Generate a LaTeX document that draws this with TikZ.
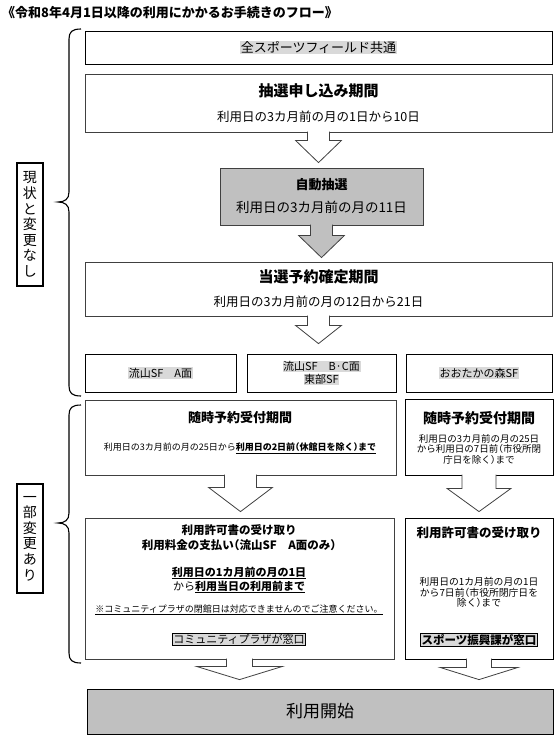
\documentclass[tikz,border=0pt]{standalone}
\usepackage{fontspec}
\setmainfont{Noto Sans CJK JP}
\usetikzlibrary{calc}
\definecolor{boxgray}{HTML}{C0C0C0}
\definecolor{hlgray}{HTML}{D9D9D9}
\definecolor{edge}{HTML}{404040}
\newcommand\hl[1]{{\setlength{\fboxsep}{0.6pt}\colorbox{hlgray}{#1}}}
\newcommand\fsize[2]{\fontsize{#1}{#2}\selectfont}
\newcommand\tight{\addfontfeatures{RawFeature=+halt}}
% block arrow: [style]{from}{to}{shaft half}{head half}{shaft length}{gap}
\newcommand\blockarrow[7][hollowarrow]{%
  \draw[#1] let \p1=(#2.south), \p2=([yshift=#7]#3.north) in
    (\x1-#4,\y1+0.8pt) -- (\x1-#4,\y1-#6) -- (\x1-#5,\y1-#6) -- (\x1,\y2)
    -- (\x1+#5,\y1-#6) -- (\x1+#4,\y1-#6) -- (\x1+#4,\y1+0.8pt);}
% curly bracket: {top}{tip}{bottom}
\newcommand\curly[3]{%
  \draw[bracket] (81,#1) .. controls (72,#1) and (69,#1+3) .. (69,#1+10)
    -- (69,#2-10) .. controls (69,#2-3) and (65,#2) .. (58,#2)
    .. controls (65,#2) and (69,#2+3) .. (69,#2+10)
    -- (69,#3-10) .. controls (69,#3-3) and (72,#3) .. (81,#3);}
\tikzset{
  box/.style={draw=edge, line width=0.8pt, fill=white, inner sep=0pt, align=center},
  graybox/.style={box, fill=boxgray},
  tag/.style={draw, line width=1.6pt, inner sep=0pt, minimum width=26pt, align=center, font=\fsize{14}{15.6}},
  txt/.style={inner sep=0pt, align=center},
  window/.style={draw, line width=0.8pt, fill=hlgray, inner sep=1pt},
  hollowarrow/.style={draw=edge, line width=0.8pt, fill=white},
  grayarrow/.style={hollowarrow, fill=boxgray},
  bracket/.style={line width=1.1pt},
}
\begin{document}
\begin{tikzpicture}[x=1pt, y=-1pt]
  \useasboundingbox (0,0) rectangle (557,739);
  \node[txt, anchor=west, font=\bfseries\fsize{13}{15}] (title) at (2,13) {《令和8年4月1日以降の利用にかかるお手続きのフロー》};

  % unchanged part
  \node[box, draw=black, line width=1pt, minimum width=467pt, minimum height=33pt, font=\fsize{13}{15}] (common) at (318.5,47.5) {\hl{全スポーツフィールド共通}};
  \node[box, minimum width=467pt, minimum height=58pt, font=\fsize{12.5}{25}] (apply) at (318.5,103)
    {{\bfseries\fsize{15}{18}抽選申し込み期間}\\利用日の3カ月前の月の1日から10日};
  \node[graybox, minimum width=203pt, minimum height=57pt, font=\fsize{13.5}{23}] (autodraw) at (321.5,196.5)
    {{\bfseries\fsize{13}{16}自動抽選}\\利用日の3カ月前の月の11日};
  \node[box, minimum width=467pt, minimum height=54pt, font=\fsize{12.5}{24}] (confirm) at (318.5,289)
    {{\bfseries\fsize{15}{18}当選予約確定期間}\\利用日の3カ月前の月の12日から21日};
  \node[box, draw=black, minimum width=151pt, minimum height=38pt, font=\fsize{11}{13}] (fieldA) at (160.5,373) {\hl{流山SF　A面}};
  \node[box, draw=black, minimum width=149pt, minimum height=38pt, font=\fsize{11}{13}] (fieldB) at (321.5,373) {\hl{流山SF　B·C面}\\\hl{東部SF}};
  \node[box, draw=black, minimum width=146pt, minimum height=38pt, font=\fsize{11}{13}] (fieldC) at (479,373) {\hl{おおたかの森SF}};

  % changed part
  \node[box, minimum width=311pt, minimum height=75pt] (anytimeA) at (240.5,437.5) {};
  \node[txt, font=\bfseries\fsize{13}{15}] (anytimeAhead) at (240,418) {随時予約受付期間};
  \node[txt, font=\fsize{9}{11}\tight] (anytimeAdate) at (240,448) {利用日の3カ月前の月の25日から\underline{\textbf{利用日の2日前（休館日を除く）まで}}};
  \node[box, draw=black, minimum width=148pt, minimum height=76pt] (anytimeB) at (479,437) {};
  \node[txt, font=\bfseries\fsize{14}{16}] (anytimeBhead) at (479,418) {随時予約受付期間};
  \node[txt, font=\fsize{9.5}{10.5}\tight] (anytimeBdate) at (479,449) {利用日の3カ月前の月の25日\\から利用日の7日前（市役所閉\\庁日を除く）まで};

  \node[box, minimum width=309pt, minimum height=141pt] (permitA) at (239.5,588.5) {};
  \node[txt, font=\bfseries\fsize{11.5}{15}\tight] (permitAhead) at (239,537.5) {利用許可書の受け取り\\利用料金の支払い（流山SF　A面のみ）};
  \node[txt, font=\fsize{11}{14}] (permitAdate) at (239,580) {\underline{\textbf{利用日の1カ月前の月の1日}}\\から\underline{\textbf{利用当日の利用前まで}}};
  \node[txt, font=\fsize{9}{11}] (permitAnote) at (239,610) {\underline{※コミュニティプラザの閉館日は対応できませんのでご注意ください。}};
  \node[window, font=\fsize{11}{13}] (permitAdesk) at (239,639) {コミュニティプラザが窓口};
  \node[box, draw=black, minimum width=148pt, minimum height=141pt] (permitB) at (479,588.5) {};
  \node[txt, font=\bfseries\fsize{12.5}{15}] (permitBhead) at (479,533) {利用許可書の受け取り};
  \node[txt, font=\fsize{9.8}{10.5}\tight] (permitBdate) at (479,592.5) {利用日の1カ月前の月の1日\\から7日前（市役所閉庁日を\\除く）まで};
  \node[window, font=\bfseries\fsize{11.5}{13}] (permitBdesk) at (479,640) {スポーツ振興課が窓口};

  \node[graybox, draw=black, minimum width=466pt, minimum height=45pt, font=\fsize{17}{20}] (start) at (320,711.5) {利用開始};

  % side labels
  \node[tag, minimum height=123pt] (tagkeep) at (30,224.5) {現\\状\\と\\変\\更\\な\\し};
  \node[tag, minimum height=109pt] (tagchange) at (30,538.5) {一\\部\\変\\更\\あ\\り};
  \curly{29}{202}{396}
  \curly{405}{523}{663}

  % arrows
  \blockarrow{apply}{autodraw}{11pt}{23pt}{8pt}{5pt}
  \blockarrow[grayarrow]{autodraw}{confirm}{11pt}{23pt}{10pt}{4pt}
  \blockarrow{confirm}{fieldB}{11pt}{23pt}{9pt}{10pt}
  \blockarrow{anytimeA}{permitA}{16pt}{32pt}{12pt}{6pt}
  \blockarrow{anytimeB}{permitB}{17pt}{32pt}{13pt}{6pt}
  \blockarrow{permitA}{start}{13pt}{43pt}{7pt}{9pt}
  \blockarrow{permitB}{start}{12.5pt}{39pt}{8pt}{9pt}
\end{tikzpicture}
\end{document}
